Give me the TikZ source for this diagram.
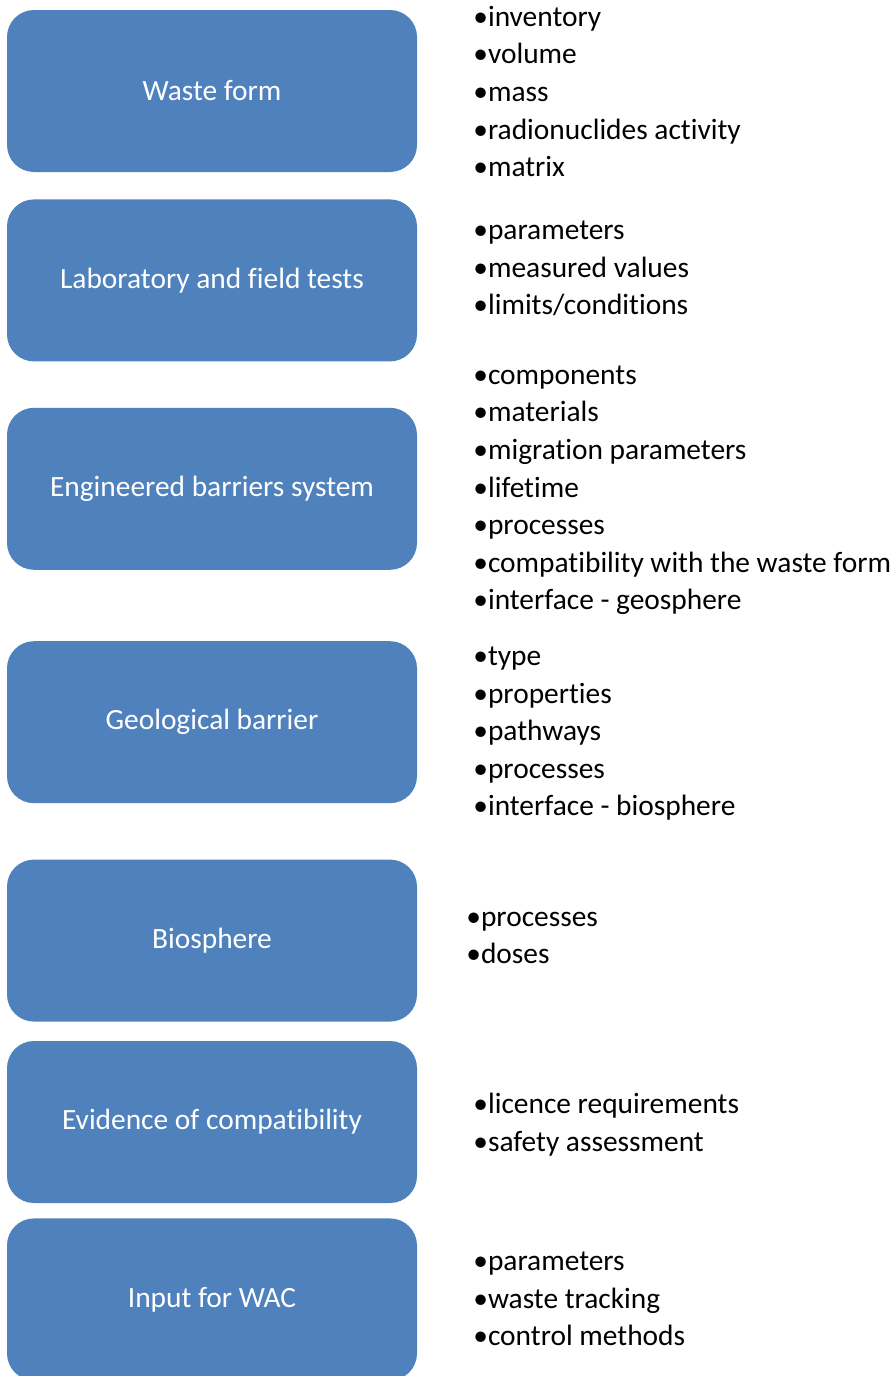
\documentclass[tikz,border=0pt]{standalone}
\usepackage{fontspec}
\setmainfont{Carlito}[RawFeature={-liga;-clig;-dlig;-calt}]
\usepackage{xcolor}
\usepackage{tikz}
\usetikzlibrary{positioning}
\definecolor{WABlue}{HTML}{4F81BD}

\begin{document}
\begin{tikzpicture}[
    x=1pt,y=1pt,
    every node/.style={font=\fontsize{29.4}{37.6}\selectfont},
    block/.style={rounded corners=27pt,fill=WABlue,text=white,align=center,minimum width=410pt,minimum height=162pt,inner sep=0pt},
    items/.style={align=left,inner sep=0pt}
  ]
  \useasboundingbox (0,0) rectangle (893,-1376);
  \node[block] (waste) at (212,-91) {Waste form};
  \node[block,below=27pt of waste] (labtests) {Laboratory and f\kern0pt ield tests};
  \node[block,below=46pt of labtests] (ebs) {Engineered barriers system};
  \node[block,below=71pt of ebs] (geobarrier) {Geological barrier};
  \node[block,below=56pt of geobarrier] (biosphere) {Biosphere};
  \node[block,below=19pt of biosphere] (evidence) {Evidence of compatibility};
  \node[block,below=15pt of evidence] (wacinput) {Input for WAC};

  \node[items,right=56pt of waste,yshift=-0.5pt] (wasteitems) {•inventory\\•volume\\•mass\\•radionuclides activity\\•matrix};
  \node[items,right=56pt of labtests,yshift=12pt] (labitems) {•parameters\\•measured values\\•limits/conditions};
  \node[items,right=56pt of ebs,yshift=-1.5pt] (ebsitems) {•components\\•materials\\•migration parameters\\•lifetime\\•processes\\•compatibility with the waste form\\•interface - geosphere};
  \node[items,right=56pt of geobarrier,yshift=-11.5pt] (geoitems) {•type\\•properties\\•pathways\\•processes\\•interface - biosphere};
  \node[items,right=49pt of biosphere,yshift=2.5pt] (bioitems) {•processes\\•doses};
  \node[items,right=56pt of evidence,yshift=-2.5pt] (evidenceitems) {•licence requirements\\•safety assessment};
  \node[items,right=56pt of wacinput,yshift=0.5pt] (wacitems) {•parameters\\•waste tracking\\•control methods};
\end{tikzpicture}
\end{document}
